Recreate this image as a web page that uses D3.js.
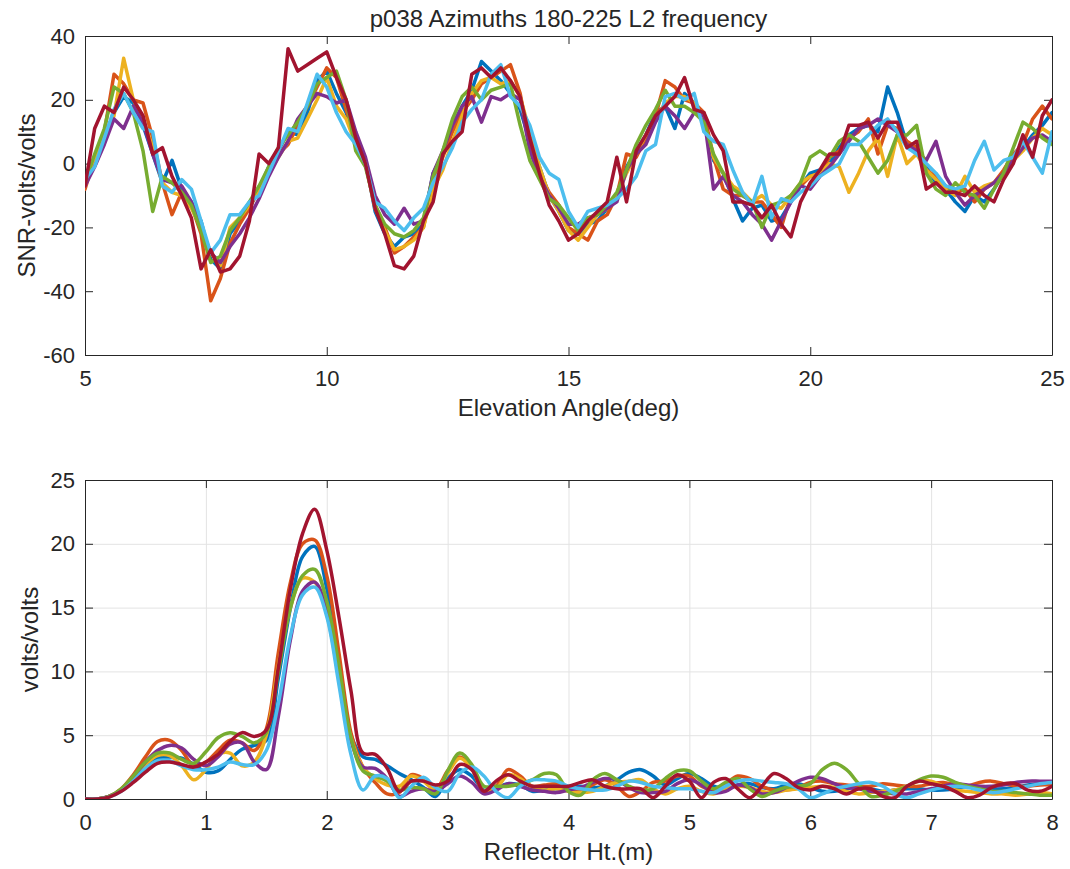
<!DOCTYPE html>
<html>
<head>
<meta charset="utf-8">
<script src="https://cdn.jsdelivr.net/npm/d3@7"></script>
<style>
body { margin: 0; background: #fff; }
svg { font-family: Helvetica, Arial, "Liberation Sans", sans-serif; }
.axis path, .axis line { stroke: #262626; }
.axis text { fill: #262626; font-size: 22px; }
.grid line { stroke: #e3e3e3; }
.grid path { display: none; }
.label { fill: #262626; font-size: 24px; }
</style>
</head>
<body>
<svg width="1070" height="869"></svg>
<script>
// DATA ------------------------------------
// top panel: SNR vs elevation angle, sampled every 0.2 deg from 5 to 25
const elevStart = 5, elevStep = 0.2;
const elevTicks = [5, 10, 15, 20, 25];
const snrTicks = [-60, -40, -20, 0, 20, 40];

const snrBlue = [-7,1,8,16,21,19,12,3,-6,1, -8,-12,-18,-30,-33,-22,-18,-14,-8,-1,
  4,10,9,16,26,29,22,16,8,1, -15,-22,-26,-23,-22,-19,-3,3,12,18,
  23,32,29,26,22,17,7,-1,-10,-15, -21,-22,-19,-18,-14,-11,-1,4,9,16,
  18,11,22,19,13,1,-3,-11,-18,-14, -13,-18,-17,-12,-7,-3,-2,0,5,9,
  11,12,10,24,16,6,5,-1,-6,-8, -12,-15,-10,-12,-8,-3,2,5,9,12, 16];
const snrOrange = [-8,2,10,28,25,20,19,8,-6,-16, -9,-13,-22,-43,-36,-25,-19,-14,-8,-2,
  3,6,12,18,24,30,27,17,8,1, -13,-20,-28,-26,-23,-20,-6,2,10,16,
  20,25,27,29,31,22,6,-3,-9,-13, -20,-22,-24,-18,-16,-10,3,2,8,15,
  26,24,20,19,16,2,-8,-10,-10,-12, -12,-16,-20,-10,-7,-4,-3,2,4,8,
  10,14,3,12,11,7,5,-2,-4,-7, -9,-8,-12,-8,-6,-2,3,6,14,18, 14];
const snrYellow = [-6,1,8,15,33,20,14,5,-6,-9, -10,-14,-20,-28,-32,-20,-17,-13,-8,-3,
  2,7,8,14,20,27,18,14,6,0, -14,-21,-27,-26,-24,-20,-8,-2,7,15,
  22,26,27,25,26,21,10,-1,-10,-15, -21,-24,-20,-16,-14,-10,-3,3,9,14,
  19,21,21,19,13,2,-3,-7,-9,-12, -10,-13,-14,-10,-6,-4,-3,0,-1,-9,
  -3,4,8,-4,9,0,3,-2,-5,-8, -10,-4,-9,-7,-6,-4,1,4,8,11, 9];
const snrPurple = [-7,-1,6,14,11,18,13,3,-5,-6, -7,-12,-20,-28,-31,-26,-22,-17,-11,-4,
  2,7,14,18,22,21,19,20,10,2, -10,-16,-19,-14,-19,-18,-3,4,12,18,
  21,13,21,20,22,20,4,-4,-10,-14, -19,-19,-17,-16,-14,-12,-2,3,6,13,
  18,15,11,16,15,-8,-4,-10,-12,-16, -19,-24,-18,-12,-7,-8,-4,-1,3,7,
  11,12,14,12,10,6,4,1,7,-4, -9,-13,-10,-8,-6,-3,1,5,8,9, 7];
const snrGreen = [-6,3,11,24,22,16,4,-15,-4,-6, -9,-13,-21,-31,-29,-21,-17,-12,-7,-1,
  5,9,13,18,25,27,29,20,4,-1, -13,-19,-22,-23,-21,-17,-4,4,14,21,
  24,20,23,24,25,12,1,-5,-11,-13, -17,-21,-17,-16,-13,-9,-2,6,12,17,
  23,18,18,16,13,3,-3,-8,-10,-12, -20,-13,-12,-10,-6,2,4,2,7,9,
  7,2,-3,1,9,9,12,-3,-8,-10, -6,-9,-10,-14,-8,-3,5,13,11,8, 6];
const snrCyan = [-5,-1,8,17,22,16,11,10,-7,-9, -5,-8,-18,-28,-24,-16,-16,-12,-10,-3,
  4,11,10,19,28,24,16,10,6,0, -12,-14,-18,-21,-17,-14,-6,-1,5,13,
  17,20,28,31,21,18,12,2,-3,-5, -15,-20,-15,-14,-13,-11,-8,-4,4,6,
  21,22,20,22,10,7,6,-2,-9,-13, -4,-17,-11,-12,-9,-7,-4,-2,0,6,
  6,9,12,14,10,5,3,0,-3,-7, -8,-7,1,7,-2,1,2,7,2,-3, 10];
const snrRed = [-7,11,18,16,24,20,15,3,5,-4, -10,-17,-33,-27,-34,-33,-29,-18,3,0,
  5,36,29,31,33,35,27,20,8,0, -14,-22,-32,-33,-29,-18,-12,3,7,10,
  28,30,27,30,26,21,8,-3,-13,-18, -24,-22,-18,-15,-12,2,-12,4,9,15,
  18,21,27,17,16,9,4,-12,-12,-13, -17,-13,-19,-23,-12,-6,-2,3,3,12,
  12,13,8,13,13,5,7,-8,-6,-9, -9,-10,-7,-10,-12,-5,0,9,2,15, 20];

// bottom panel: periodogram amplitude vs reflector height, every 0.1 m from 0 to 8
const rhStart = 0, rhStep = 0.1;
const rhTicks = [0, 1, 2, 3, 4, 5, 6, 7, 8];
const ampTicks = [0, 5, 10, 15, 20, 25];

const ampBlue = [0,0,0.2,0.7,1.5,2.5,3.2,3.3,3.2,2.7, 2.1,2.2,3.1,3.9,4.2,4.6,9.5,15.0,19.0,19.8,
  16.5,10.5,5.0,3.3,3.1,2.6,2.0,1.5,0.9,0.2, 1.6,2.3,1.8,0.7,0.9,1.2,1.1,0.6,0.7,0.8,
  0.9,1.0,0.9,1.0,1.5,2.1,2.3,1.8,1.1,1.6, 2.0,1.6,1.0,0.8,1.1,1.2,0.9,0.8,1.1,1.2,
  0.9,0.6,0.6,0.8,1.0,0.8,0.6,0.7,0.8,0.8, 0.7,0.7,0.8,1.0,0.9,0.8,0.8,0.9,1.1,1.2, 1.2];
const ampOrange = [0,0,0.2,0.8,1.9,3.3,4.5,4.6,3.8,2.6, 2.9,3.8,4.6,4.4,3.8,5.5,11.5,17.0,20.0,20.3,
  17.5,11.5,5.2,2.5,1.3,0.4,0.5,1.9,1.6,0.8, 2.2,3.3,2.4,0.6,1.0,2.3,1.8,1.0,1.1,1.2,
  0.9,0.7,1.1,1.5,1.0,0.2,0.6,1.3,1.4,1.8, 1.8,1.0,0.7,1.2,1.8,1.6,1.0,0.7,0.7,0.9,
  1.3,1.4,1.2,1.1,1.0,1.0,1.2,1.1,1.0,1.0, 1.2,1.3,1.1,1.0,1.3,1.4,1.2,1.0,1.0,1.1, 1.1];
const ampYellow = [0,0,0.2,0.7,1.6,2.7,3.4,3.4,2.6,1.5, 2.3,3.5,3.6,2.6,2.9,5.0,10.5,15.0,17.3,17.0,
  14.5,9.5,4.8,2.5,1.6,1.1,1.0,1.8,1.4,0.7, 2.0,3.2,2.4,0.6,0.8,1.9,1.6,0.9,0.7,0.8,
  0.6,0.5,0.6,1.0,1.3,1.4,1.5,0.8,0.4,0.8, 1.0,0.6,0.4,0.8,1.0,0.9,0.6,0.5,0.7,0.8,
  0.9,1.0,0.9,0.6,0.4,0.5,0.6,0.7,1.0,1.4, 1.4,1.0,0.7,0.6,0.5,0.4,0.4,0.3,0.4,0.5, 0.4];
const ampPurple = [0,0,0.2,0.7,1.7,2.9,3.8,4.2,4.0,3.1, 2.6,3.3,4.3,4.4,2.9,2.3,6.5,12.5,16.3,17.0,
  14.8,10.0,4.6,2.5,2.4,1.6,0.2,0.6,0.8,0.6, 1.2,1.8,1.3,0.4,0.7,1.2,1.0,0.7,0.6,0.5,
  0.7,0.9,1.3,1.6,1.5,0.9,0.5,0.5,0.6,1.2, 1.5,1.1,0.5,0.6,1.1,0.9,0.4,0.5,0.9,1.4,
  1.7,1.6,1.2,0.9,0.8,0.6,0.5,0.4,0.4,0.6, 0.8,1.0,1.2,1.1,1.0,1.0,1.1,1.3,1.4,1.4, 1.4];
const ampGreen = [0,0,0.2,0.8,1.8,2.9,3.6,3.6,3.1,2.8, 3.7,4.8,5.2,4.9,4.4,5.2,10.0,15.0,17.5,18.0,
  15.5,10.5,4.8,2.2,1.8,1.4,0.7,0.9,0.8,0.4, 2.2,3.6,2.7,1.0,1.0,1.0,1.2,1.5,2.0,1.9,
  0.6,0.3,1.5,2.0,1.5,1.0,0.7,0.8,1.6,2.2, 2.2,1.4,0.8,1.3,1.6,0.8,0.2,0.6,0.9,1.0,
  1.2,2.3,2.8,2.3,1.2,0.2,0.3,0.6,1.0,1.5, 1.8,1.7,1.3,1.0,0.8,0.6,0.6,0.5,0.4,0.3, 0.3];
const ampCyan = [0,0,0.15,0.6,1.4,2.4,3.0,3.0,2.6,2.3, 2.3,2.5,2.9,2.7,2.7,3.8,7.5,12.8,16.0,16.6,
  14.3,9.0,3.5,0.7,1.8,1.6,0.1,1.0,1.7,0.9, 0.6,2.0,2.5,1.8,0.6,0.1,1.0,1.5,1.5,1.4,
  1.0,0.8,0.7,0.7,1.0,1.4,1.3,1.0,0.9,0.8, 0.8,0.6,0.5,1.0,1.4,1.5,1.4,1.3,1.2,0.8,
  0.1,0.4,0.8,1.0,1.2,1.3,1.0,0.4,0.1,0.4, 0.7,0.9,1.0,0.9,0.7,0.5,0.6,0.8,1.0,1.2, 1.3];
const ampRed = [0,0,0.15,0.6,1.3,2.1,2.8,2.9,2.7,2.5, 2.9,3.5,4.5,5.2,4.9,5.4,10.3,16.5,20.8,22.7,
  19.5,14.3,8.5,3.6,3.5,2.4,0.6,1.4,1.4,1.1, 1.4,2.7,2.3,0.6,1.4,1.9,1.4,1.0,1.0,1.0,
  1.0,1.3,1.5,1.0,0.8,0.8,0.8,0.1,1.0,1.9, 1.4,0.1,1.3,1.6,0.8,0.1,1.0,2.0,1.6,0.9,
  0.7,1.0,0.8,0.4,0.8,0.8,0.2,0.1,1.0,1.4, 1.2,1.0,0.6,0.1,0.3,0.9,1.2,1.2,0.7,0.6, 1.0];

const colors = ["#0072BD", "#D95319", "#EDB120", "#7E2F8E", "#77AC30", "#4DBEEE", "#A2142F"];
const snrSeries = [snrBlue, snrOrange, snrYellow, snrPurple, snrGreen, snrCyan, snrRed];
const ampSeries = [ampBlue, ampOrange, ampYellow, ampPurple, ampGreen, ampCyan, ampRed];

// CHART -----------------------------------
const svg = d3.select("svg");
const left = 85, width = 967, height = 319;
const plain = d => String(d);   // hyphen minus like the original, not d3's U+2212

function panel(id, offsetY, xDomain, yDomain, xTicks, yTicks, grid) {
  const g = svg.append("g").attr("transform", "translate(" + left + "," + offsetY + ")");
  const x = d3.scaleLinear().domain(xDomain).range([0, width]);
  const y = d3.scaleLinear().domain(yDomain).range([height, 0]);

  g.append("clipPath").attr("id", id)
    .append("rect").attr("width", width).attr("height", height);

  if (grid) {
    g.append("g").attr("class", "grid")
      .attr("transform", "translate(0," + height + ")")
      .call(d3.axisBottom(x).tickValues(xTicks).tickSize(-height).tickFormat(""));
    g.append("g").attr("class", "grid")
      .call(d3.axisLeft(y).tickValues(yTicks).tickSize(-width).tickFormat(""));
  }

  g.append("g").attr("class", "axis")
    .attr("transform", "translate(0," + height + ")")
    .call(d3.axisBottom(x).tickValues(xTicks).tickFormat(plain)
      .tickSizeInner(-8).tickSizeOuter(0).tickPadding(15));
  g.append("g").attr("class", "axis")
    .call(d3.axisLeft(y).tickValues(yTicks).tickFormat(plain)
      .tickSizeInner(-8).tickSizeOuter(0).tickPadding(10));
  g.append("g").attr("class", "axis")
    .call(d3.axisTop(x).tickValues(xTicks).tickSizeInner(-8).tickSizeOuter(0).tickFormat(""));
  g.append("g").attr("class", "axis")
    .attr("transform", "translate(" + width + ",0)")
    .call(d3.axisRight(y).tickValues(yTicks).tickSizeInner(-8).tickSizeOuter(0).tickFormat(""));

  return {g, x, y};
}

function drawLines(p, id, series, start, step, curve) {
  const line = d3.line()
    .x((d, i) => p.x(start + i * step))
    .y(d => p.y(d))
    .curve(curve);
  p.g.append("g").attr("clip-path", "url(#" + id + ")")
    .selectAll("path")
    .data(series)
    .enter().append("path")
    .attr("d", line)
    .attr("fill", "none")
    .attr("stroke", (d, i) => colors[i])
    .attr("stroke-width", 3.5)
    .attr("stroke-linejoin", "round")
    .attr("stroke-linecap", "round");
}

// top panel
const snrPanel = panel("clipTop", 36, [5, 25], [-60, 40], elevTicks, snrTicks, false);
drawLines(snrPanel, "clipTop", snrSeries, elevStart, elevStep, d3.curveLinear);

svg.append("text").attr("class", "label")
  .attr("x", left + width / 2).attr("y", 27)
  .attr("text-anchor", "middle")
  .text("p038 Azimuths 180-225 L2 frequency");
svg.append("text").attr("class", "label")
  .attr("x", left + width / 2).attr("y", 416)
  .attr("text-anchor", "middle")
  .text("Elevation Angle(deg)");
svg.append("text").attr("class", "label")
  .attr("transform", "translate(35," + (36 + height / 2) + ") rotate(-90)")
  .attr("text-anchor", "middle")
  .text("SNR-volts/volts");

// bottom panel
const ampPanel = panel("clipBottom", 480, [0, 8], [0, 25], rhTicks, ampTicks, true);
drawLines(ampPanel, "clipBottom", ampSeries, rhStart, rhStep, d3.curveCatmullRom.alpha(0.5));

svg.append("text").attr("class", "label")
  .attr("x", left + width / 2).attr("y", 860)
  .attr("text-anchor", "middle")
  .text("Reflector Ht.(m)");
svg.append("text").attr("class", "label")
  .attr("transform", "translate(38," + (480 + height / 2) + ") rotate(-90)")
  .attr("text-anchor", "middle")
  .text("volts/volts");
</script>
</body>
</html>
